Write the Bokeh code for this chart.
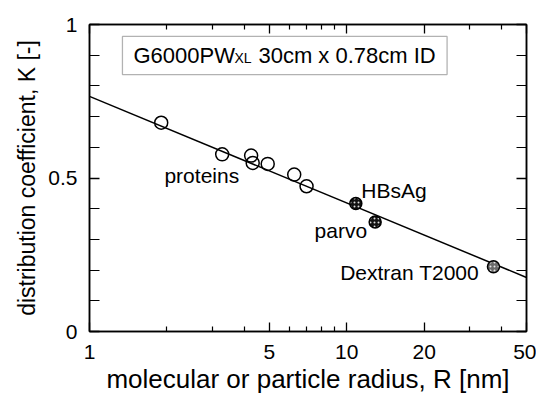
from bokeh.plotting import figure
from bokeh.models import (Range1d, FixedTicker, LogAxis, LinearAxis, BoxAnnotation,
                          Label, ColumnDataSource)
from bokeh.embed import file_html
from bokeh.resources import INLINE

# ---- data ----
protein_radius = [1.90, 3.28, 4.25, 4.31, 4.93, 6.25, 6.98]
protein_k = [0.680, 0.577, 0.573, 0.549, 0.546, 0.511, 0.473]

particle_names = ["HBsAg", "parvo", "Dextran T2000"]
particle_radius = [10.85, 12.9, 37.2]
particle_k = [0.417, 0.357, 0.211]

fit_radius = [1, 50]
fit_k = [0.766, 0.176]

x_major = [1, 5, 10, 20, 50]
x_minor = [2, 3, 4, 6, 7, 8, 9, 30, 40]
y_major = [0, 0.5, 1]
y_minor = [0.1, 0.2, 0.3, 0.4, 0.6, 0.7, 0.8, 0.9]
x_tick_labels = ["1", "5", "10", "20", "50"]
y_tick_labels = ["0", "0.5", "1"]

FONT = "Liberation Sans"

p = figure(x_axis_type="log", x_range=Range1d(1, 50), y_range=Range1d(0, 1),
           frame_width=437, frame_height=307,
           min_border_left=89, min_border_right=10, min_border_top=24, min_border_bottom=61,
           output_backend="svg", toolbar_location=None,
           background_fill_color="white", border_fill_color="white")
p.xgrid.visible = False
p.ygrid.visible = False
p.outline_line_color = "black"
p.outline_line_width = 1.5

xt = FixedTicker(ticks=x_major, minor_ticks=x_minor)
yt = FixedTicker(ticks=y_major, minor_ticks=y_minor)

def style_common(ax, labels):
    ax.axis_line_color = "black"
    ax.axis_line_width = 1.5
    ax.major_tick_out = 0
    ax.minor_tick_out = 0
    ax.major_tick_line_width = 1.3
    ax.minor_tick_line_width = 1.2
    if labels:
        ax.major_label_text_font = FONT
        ax.major_label_text_font_size = "21px"
        ax.major_label_text_color = "black"
    else:
        ax.major_label_text_font_size = "0px"
        ax.major_label_text_color = None
        ax.major_label_text_alpha = 0
        ax.major_label_standoff = 0

def style_x(ax, labels=True):
    ax.ticker = xt
    ax.major_tick_in = 9
    ax.minor_tick_in = 5
    style_common(ax, labels)
    if labels:
        ax.major_label_overrides = {v: s for v, s in zip(x_major, x_tick_labels)}
        ax.major_label_standoff = 13

def style_y(ax, labels=True):
    ax.ticker = yt
    ax.major_tick_in = 10
    ax.minor_tick_in = 10
    style_common(ax, labels)
    if labels:
        ax.major_label_overrides = {v: s for v, s in zip(y_major, y_tick_labels)}
        ax.major_label_standoff = 12

xax = p.xaxis[0]
yax = p.yaxis[0]
style_x(xax)
style_y(yax)
xax.axis_label = "molecular or particle radius, R [nm]"
xax.axis_label_text_font = FONT
xax.axis_label_text_font_size = "26px"
xax.axis_label_text_font_style = "normal"
xax.axis_label_text_color = "black"
xax.axis_label_standoff = 2
yax.axis_label = "distribution coefficient, K [-]"
yax.axis_label_text_font = FONT
yax.axis_label_text_font_size = "23px"
yax.axis_label_text_font_style = "normal"
yax.axis_label_text_color = "black"
yax.axis_label_standoff = 5

top = LogAxis()
style_x(top, labels=False)
p.add_layout(top, "above")
right = LinearAxis()
style_y(right, labels=False)
p.add_layout(right, "right")

# fitted line
p.line(fit_radius, fit_k, line_color="black", line_width=1.5)

# proteins: open circles
p.scatter(protein_radius, protein_k, marker="circle", size=13,
          fill_color=None, line_color="black", line_width=1.5)

# particles: stippled filled circles
src = ColumnDataSource(dict(r=particle_radius, k=particle_k,
                            fc=["#111111", "#111111", "#6a6a6a"]))
p.scatter("r", "k", source=src, marker="circle", size=12,
          fill_color="fc", line_color="black", line_width=1.5,
          hatch_pattern="dot", hatch_color="white", hatch_scale=4, hatch_weight=1,
          hatch_alpha=0.85)

# annotations
ann_style = dict(text_font=FONT, text_font_size="21px", text_color="black",
                 text_baseline="alphabetic", y_offset=7)
p.add_layout(Label(x=1.956, y=0.485, text="proteins", text_align="left", **ann_style))
p.add_layout(Label(x=11.39, y=0.4365, text=particle_names[0], text_align="left", **ann_style))
p.add_layout(Label(x=12.0, y=0.305, text=particle_names[1], text_align="right", **ann_style))
p.add_layout(Label(x=32.7, y=0.169, text=particle_names[2], text_align="right", **ann_style))

# title box
p.add_layout(BoxAnnotation(left=1.343, right=24.56, top=0.961, bottom=0.837,
                           fill_color="white", fill_alpha=1.0,
                           line_color="black", line_width=1.3))
tstyle = dict(text_font=FONT, text_color="black", text_baseline="alphabetic",
              text_align="left")
p.add_layout(Label(x=1.482, y=0.876, y_offset=7, text="G6000PW",
                   text_font_size="22px", **tstyle))
p.add_layout(Label(x=1.482, y=0.876, x_offset=101, y_offset=4.5, text="XL",
                   text_font_size="14px", **tstyle))
p.add_layout(Label(x=1.482, y=0.876, x_offset=125, y_offset=7, text="30cm x 0.78cm ID",
                   text_font_size="22px", **tstyle))

open("out.html", "w").write(file_html(p, INLINE))
